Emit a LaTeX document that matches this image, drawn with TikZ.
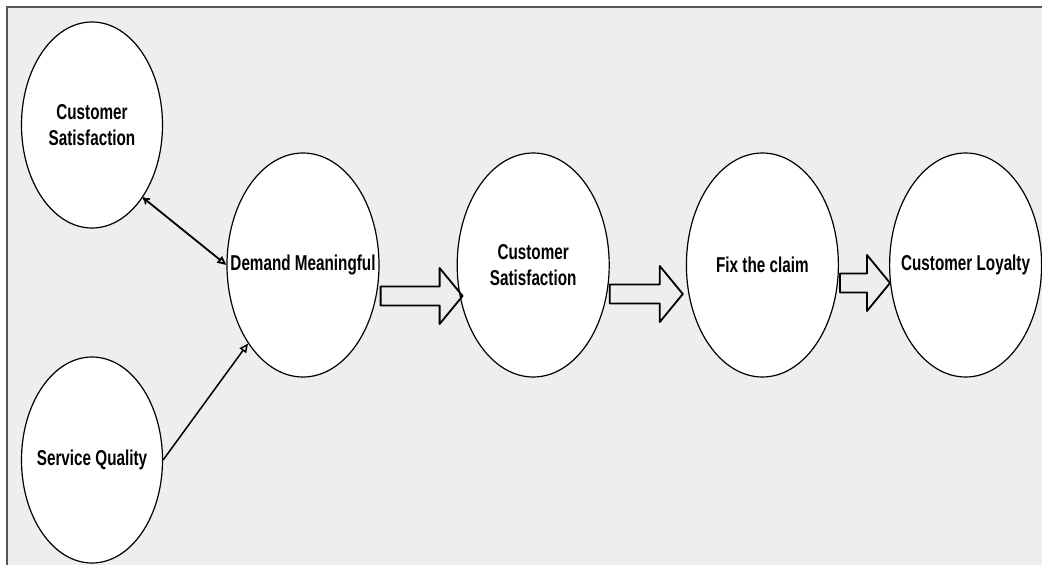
\documentclass[tikz,border=0pt]{standalone}
\usepackage{fontspec}
\setmainfont{Liberation Sans}[FakeStretch=0.71]
\usepackage{tikz}
\usetikzlibrary{shapes.geometric, arrows.meta, calc, positioning}

\definecolor{canvasgray}{HTML}{EDEEF0}
\definecolor{framegray}{HTML}{555555}

\tikzset{
  bubble/.style={ellipse, draw, fill=white, line width=1.2pt, inner xsep=-20pt, inner ysep=0pt,
    align=center, font=\bfseries\fontsize{21.5}{26.7}\selectfont},
  big/.style={bubble, minimum width=152pt, minimum height=224pt},
  small/.style={bubble, minimum width=141pt, minimum height=206pt},
  fatarrow/.style={draw, line width=1.8pt, line join=round},
}

% hollow block arrow from #1 to the tip #2
\newcommand{\blockarrow}[2]{%
  \draw[fatarrow] let \p1=(#1), \p2=(#2) in
    (\x1,\y1+9.5pt) -- (\x2-23pt,\y1+9.5pt) -- (\x2-23pt,\y1+28pt) -- (\x2,\y1)
    -- (\x2-23pt,\y1-28pt) -- (\x2-23pt,\y1-9.5pt) -- (\x1,\y1-9.5pt) -- cycle;}

\begin{document}
\begin{tikzpicture}[x=1pt, y=-1pt]
  \useasboundingbox (0,0) rectangle (1042,565);
  \fill[canvasgray] (7,7) rectangle (1042,565);
  \draw[framegray, line width=1.5pt] (7,565) -- (7,7) -- (1042,7);

  % Create nodes
  \node[small] (cs1) at (92,125) {Customer\\Satisfaction};
  \node[small] (sq) at (92,460) {Service Quality};
  \node[big] (dm) at (303,265) {Demand Meaningful};
  \node[big] (cs2) [right = 77pt of dm] {Customer\\Satisfaction};
  \node[big] (fix) [right = 76pt of cs2] {Fix the claim};
  \node[big] (cl) [right = 50pt of fix] {Customer Loyalty};

  % 
  \draw[line width=1.8pt, {To[length=7pt,width=8pt]}-{Triangle[open,length=9pt,width=8pt]}] (cs1.305) -- (dm.west);
  \draw[line width=1.5pt, -{Triangle[open,length=9pt,width=8pt]}] (sq.east) -- (dm.235);

  \coordinate (a1) at ($(dm.east)+(1,31)$);
  \coordinate (b1) at ($(cs2.west)+(6,31)$);
  \coordinate (a2) at ($(cs2.east)+(0,29)$);
  \coordinate (b2) at ($(fix.west)+(-3,29)$);
  \coordinate (a3) at ($(fix.east)+(1,18)$);
  \coordinate (b3) at ($(cl.west)+(1,18)$);
  \blockarrow{a1}{b1}
  \blockarrow{a2}{b2}
  \blockarrow{a3}{b3}
\end{tikzpicture}
\end{document}
